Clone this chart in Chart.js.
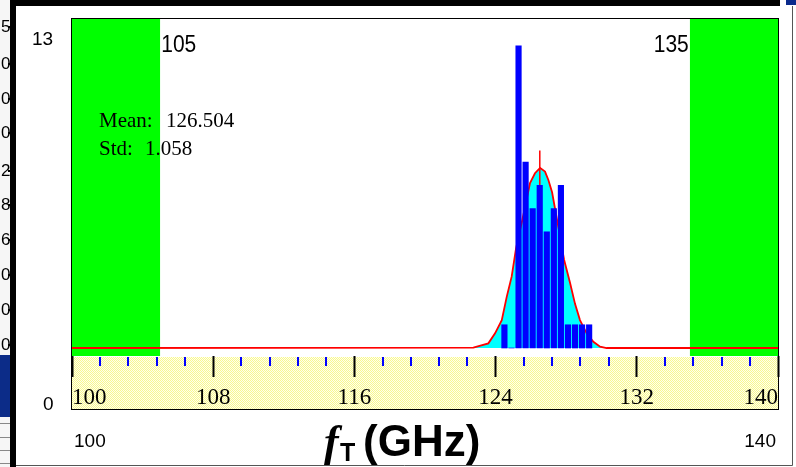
<!DOCTYPE html>
<html><head><meta charset="utf-8">
<script src="https://cdn.jsdelivr.net/npm/chart.js@4/dist/chart.umd.min.js"></script>
<style>html,body{margin:0;padding:0;background:#fff;overflow:hidden}</style>
</head><body>
<canvas id="c" width="796" height="467" style="display:block;width:796px;height:467px"></canvas>
<script>
// ---- data ----
const xMin = 100, xMax = 140;
const specLimits = [105, 135];
const specLabels = ['105', '135'];
const binCenters = [124.5,124.9,125.3,125.7,126.1,126.5,126.9,127.3,127.7,128.1,128.5,128.9,129.3];
const binCounts  = [1,0,13,8,6,7,5,6,7,1,1,1,1];
const fitX = [100,122.74,123.59,123.97,124.35,124.63,124.91,125.16,125.51,125.95,126.23,126.52,126.80,126.99,127.20,127.55,127.88,128.22,128.50,128.78,129.16,129.54,129.92,130.29,140];
const fitY = [0,0.02,0.2,0.63,1.2,2.2,3.07,4.3,5.5,7.1,7.52,7.75,7.59,7.23,6.7,5.22,3.8,2.8,1.9,1.2,0.63,0.27,0.06,0,0];
const meanValue = 126.504, stdValue = 1.058;
const meanMarkerTop = 8.5;
const majorTicks = [100,108,116,124,132,140];
const tickLabels = ['100','108','116','124','132','140'];
const minorTicks = [101.6,103.2,104.8,106.4,109.6,111.2,112.8,114.4,117.6,119.2,120.8,122.4,125.6,127.2,128.8,130.4,133.6,135.2,136.8,138.4];
const countRange = ['13','0'];
const rangeLabels = ['100','140'];
const statLabels = ['Mean:', 'Std:'];
const statValues = ['126.504', '1.058'];
const sideDigits = ['5','0','0','0','2','8','6','0','0','0'];
const yLow = -0.344, yHigh = 14.2;

// yellow dotted pattern
const pc = document.createElement('canvas'); pc.width = 2; pc.height = 2;
const pctx = pc.getContext('2d');
pctx.fillStyle = '#FFFFEC'; pctx.fillRect(0,0,2,2);
pctx.fillStyle = '#F8F890'; pctx.fillRect(0,0,1,1); pctx.fillRect(1,1,1,1);

const framePlugin = {
  id: 'frame',
  beforeDraw(chart) {
    const c = chart.ctx, a = chart.chartArea, xs = chart.scales.x;
    c.save();
    c.fillStyle = '#fff'; c.fillRect(0, 0, 796, 467);
    // left cut-off neighbour panel
    c.fillStyle = '#f6f6f6'; c.fillRect(0, 0, 10, 467);
    c.fillStyle = '#0c2c88'; c.fillRect(0, 355, 10, 62);
    c.strokeStyle = '#888'; c.lineWidth = 1;
    [423.5, 437.5, 450.5, 463.5].forEach(y => { c.beginPath(); c.moveTo(0, y); c.lineTo(10, y); c.stroke(); });
    c.save();
    c.beginPath(); c.rect(0, 0, 10, 352); c.clip();
    c.fillStyle = '#000'; c.font = '17px "Liberation Sans"'; c.textBaseline = 'middle';
    const sy = [27, 64, 99, 133, 171, 205, 240, 275, 310, 345];
    sideDigits.forEach((d, i) => { c.fillText(d, 1, sy[i]); c.fillRect(8, sy[i] - 1, 2, 2); });
    c.restore();
    // outer black frame
    c.fillStyle = '#000';
    c.fillRect(10, 0, 770, 6);
    c.fillRect(10, 0, 6, 467);
    c.fillStyle = '#0a2a8c'; c.fillRect(786, 0, 10, 5);
    c.strokeStyle = '#555'; c.lineWidth = 1;
    c.beginPath(); c.moveTo(792.5, 6); c.lineTo(792.5, 465.5); c.lineTo(16, 465.5); c.stroke();
    // yellow axis strip
    c.fillStyle = c.createPattern(pc, 'repeat');
    c.fillRect(a.left, a.bottom + 1, a.right - a.left, xs.bottom - a.bottom - 1);
    c.restore();
  },
  afterDraw(chart) {
    const c = chart.ctx, a = chart.chartArea, xs = chart.scales.x;
    c.save();
    // minor ticks
    c.strokeStyle = '#0000FF'; c.lineWidth = 2;
    minorTicks.forEach(v => {
      const px = Math.round(xs.getPixelForValue(v));
      c.beginPath(); c.moveTo(px, a.bottom + 1); c.lineTo(px, a.bottom + 10); c.stroke();
    });
    // plot box
    c.strokeStyle = '#000'; c.lineWidth = 1;
    c.strokeRect(a.left - 0.5, a.top + 0.5, a.right - a.left + 1, xs.bottom - a.top - 1);
    // spec limit labels
    c.fillStyle = '#000';
    c.font = '21px "Liberation Sans"'; c.textBaseline = 'alphabetic';
    c.save(); c.translate(0, 52); c.scale(1, 1.18);
    c.textAlign = 'left';  c.fillText(specLabels[0], xs.getPixelForValue(specLimits[0]) + 1, 0);
    c.textAlign = 'right'; c.fillText(specLabels[1], xs.getPixelForValue(specLimits[1]) - 1, 0);
    c.restore();
    // stats
    c.font = '21px "Liberation Serif"'; c.textAlign = 'left';
    c.fillText(statLabels[0], 99, 127); c.fillText(statValues[0], 166, 127);
    c.fillText(statLabels[1], 99, 155); c.fillText(statValues[1], 145, 155);
    // outer range labels
    c.font = '19px "Liberation Sans"';
    c.fillText(countRange[0], 32, 45);
    c.fillText(countRange[1], 43, 410);
    c.fillText(rangeLabels[0], 74, 447);
    c.textAlign = 'right'; c.fillText(rangeLabels[1], 776, 447);
    // axis title f_T (GHz)
    c.textAlign = 'left';
    c.font = 'italic bold 44px "Liberation Serif"'; c.fillText('f', 324, 456);
    c.font = 'bold 25px "Liberation Sans"'; c.fillText('T', 340, 461);
    c.font = 'bold 44px "Liberation Sans"'; c.fillText('(GHz)', 363, 456);
    c.restore();
  }
};

new Chart(document.getElementById('c'), {
  type: 'bar',
  data: {
    datasets: [
      { type: 'bar', label: 'count', data: binCenters.map((x, i) => ({ x, y: binCounts[i] })),
        backgroundColor: '#0000FF', borderWidth: 0, barThickness: 5.5, order: 0 },
      { type: 'line', label: 'mean', data: [{ x: meanValue, y: 0 }, { x: meanValue, y: meanMarkerTop }],
        borderColor: '#FF0000', borderWidth: 1.5, pointRadius: 0, fill: false, order: 1 },
      { type: 'line', label: 'fit', data: fitX.map((x, i) => ({ x, y: fitY[i] })),
        borderColor: '#FF0000', borderWidth: 1.8, backgroundColor: '#00FFFF', fill: 'origin',
        pointRadius: 0, tension: 0, order: 2 },
      { type: 'line', label: 'lsl', data: [{ x: xMin, y: yHigh }, { x: specLimits[0], y: yHigh }],
        borderWidth: 0, backgroundColor: '#00FF00', fill: 'start', pointRadius: 0, order: 3 },
      { type: 'line', label: 'usl', data: [{ x: specLimits[1], y: yHigh }, { x: xMax, y: yHigh }],
        borderWidth: 0, backgroundColor: '#00FF00', fill: 'start', pointRadius: 0, order: 4 }
    ]
  },
  options: {
    responsive: false, animation: false, events: [],
    layout: { padding: { left: 72, right: 18, top: 18, bottom: 57 } },
    plugins: { legend: { display: false }, tooltip: { enabled: false } },
    scales: {
      x: {
        type: 'linear', min: xMin, max: xMax, position: 'bottom', offset: false,
        afterBuildTicks: s => { s.ticks = majorTicks.map(v => ({ value: v })); },
        afterFit: s => { s.height = 54; },
        border: { display: false },
        grid: { offset: false, drawOnChartArea: false, drawTicks: true, tickLength: 21, tickColor: '#000', tickWidth: 2 },
        ticks: {
          autoSkip: false, maxRotation: 0, align: 'inner', padding: 7, color: '#000',
          font: { family: '"Liberation Serif"', size: 23 },
          callback: (v) => tickLabels[majorTicks.indexOf(v)]
        }
      },
      y: { type: 'linear', min: yLow, max: yHigh, display: false }
    }
  },
  plugins: [framePlugin]
});
</script>
</body></html>
